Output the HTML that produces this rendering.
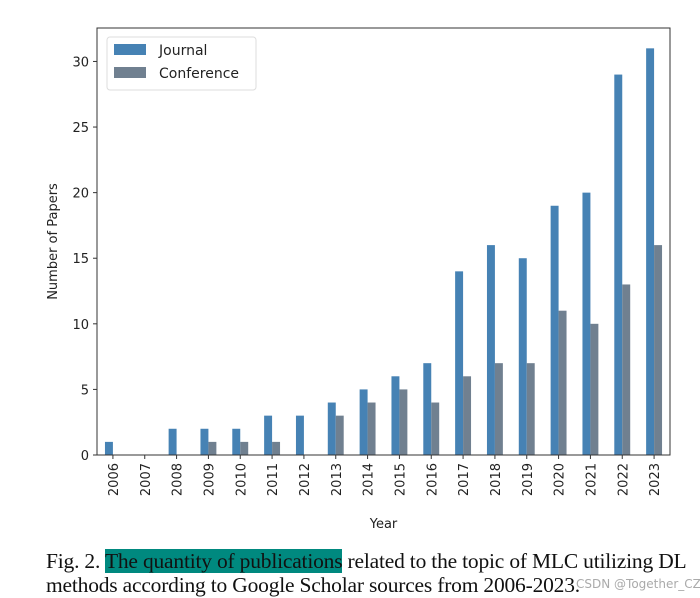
<!DOCTYPE html>
<html><head><meta charset="utf-8"><style>
body{margin:0;background:#fff;width:700px;height:598px;overflow:hidden;position:relative}
svg text{font-family:"DejaVu Sans","Liberation Sans",sans-serif;fill:#222}
.cap{position:absolute;left:46px;font-family:"Liberation Serif",serif;font-size:21.5px;line-height:24px;color:#111;white-space:nowrap;letter-spacing:-0.2px}
</style></head><body>
<svg id="chart" width="700" height="540" style="position:absolute;left:0;top:0"></svg>
<div class="cap" style="top:549px">Fig. 2. <span style="background:#00897f">The quantity of publications</span> related to the topic of MLC utilizing DL</div>
<div class="cap" style="top:573px">methods according to Google Scholar sources from 2006-2023.</div>
<div style="position:absolute;left:576px;top:577px;font:12px 'DejaVu Sans',sans-serif;color:#aaa;white-space:nowrap">CSDN @Together_CZ</div>
<script>
const years=["2006","2007","2008","2009","2010","2011","2012","2013","2014","2015","2016","2017","2018","2019","2020","2021","2022","2023"];
const journal=[1,0,2,2,2,3,3,4,5,6,7,14,16,15,19,20,29,31];
const conference=[0,0,0,1,1,1,0,3,4,5,4,6,7,7,11,10,13,16];
const yTicks=[0,5,10,15,20,25,30];
const svg=document.getElementById('chart');
const NS='http://www.w3.org/2000/svg';
const L=97,R=670,T=28,B=455,yMax=32.55;
const step=(R-L)/years.length;
const x=i=>L+step*(i+0.5);
const y=v=>B-(v/yMax)*(B-T);
function mk(t,a){const e=document.createElementNS(NS,t);for(const k in a)e.setAttribute(k,a[k]);svg.appendChild(e);return e;}
const bw=step*0.25;
years.forEach((yr,i)=>{
  const b1=mk('rect',{x:x(i)-bw,y:y(journal[i]),width:bw,height:B-y(journal[i]),fill:'#4682b4'});
  
  
  const b2=mk('rect',{x:x(i),y:y(conference[i]),width:bw,height:B-y(conference[i]),fill:'#708090'});
  
  
  mk('line',{x1:x(i),x2:x(i),y1:B,y2:B+4,stroke:'#333'});
  const t=mk('text',{x:0,y:0,'font-size':13,'text-anchor':'end',transform:`translate(${x(i)+5},${B+8}) rotate(-90)`});
  t.textContent=yr;
  
  
});
yTicks.forEach(v=>{
  mk('line',{x1:L-4,x2:L,y1:y(v),y2:y(v),stroke:'#333'});
  const t=mk('text',{x:L-8,y:y(v)+5,'font-size':13,'text-anchor':'end'});
  t.textContent=v;
  
  
});
const fr=mk('rect',{x:L,y:T,width:R-L,height:B-T,fill:'none',stroke:'#333','stroke-width':1});


const xt=mk('text',{x:(L+R)/2,y:528,'font-size':13,'text-anchor':'middle'});xt.textContent='Year';


const yt=mk('text',{x:0,y:0,'font-size':13,'text-anchor':'middle',transform:`translate(57,${(T+B)/2}) rotate(-90)`});yt.textContent='Number of Papers';


const lg=mk('rect',{x:107,y:37,width:149,height:53,rx:3,fill:'#fff',stroke:'#ddd'});


[['Journal','#4682b4',50],['Conference','#708090',73]].forEach(([n,c,yy])=>{
  mk('rect',{x:114,y:yy-6,width:32,height:11,fill:c});
  const t=mk('text',{x:159,y:yy+5,'font-size':14});t.textContent=n;
  
  
});
</script>
</body></html>
